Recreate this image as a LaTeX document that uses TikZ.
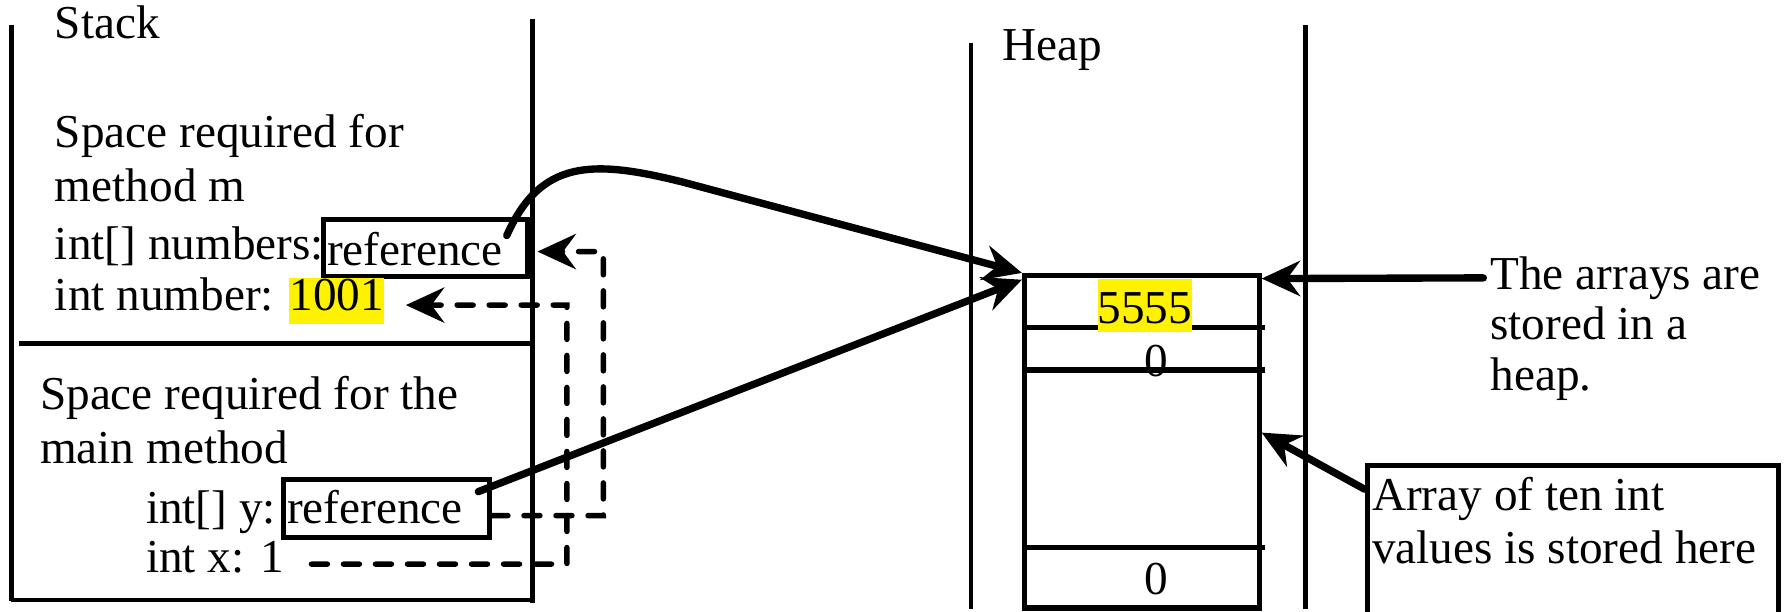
\documentclass[tikz,border=0pt]{standalone}
\usepackage{fontspec}
\setmainfont{Liberation Serif}
\usetikzlibrary{arrows.meta}

\tikzset{
  txt/.style={anchor=base west, inner sep=0pt, font=\fontsize{29.5}{35}\selectfont},
  hilite/.style={txt, fill=yellow},
  wall/.style={line width=3pt},
  refbox/.style={draw, line width=3pt, inner sep=0pt},
  cellbox/.style={draw, line width=3.2pt, inner sep=0pt},
  ptr/.style={line width=4.6pt, line cap=round, -{Stealth[length=24pt,width=22pt,inset=8pt]}},
  link/.style={line width=3.4pt, line cap=round, dash pattern=on 10pt off 10pt,
    -{Stealth[length=24pt,width=22pt,inset=8pt]}}
}

\begin{document}
\begin{tikzpicture}[x=0.025cm, y=-0.025cm]
  \useasboundingbox (0,0) rectangle (1568,537.6);

  % stack frame
  \draw[wall] (10,22) -- (10,528);
  \draw[wall] (468,17) -- (468,530);
  \draw[wall] (10,527) -- (468,527);
  \draw[wall] (17,302) -- (468,302);
  \node[txt] (stack) at (48,34) {Stack};

  % frame of method m
  \node[txt] at (48,130) {Space required for};
  \node[txt] at (48,177) {method m};
  \node[txt] at (48,228) {int[] numbers:};
  \node[refbox, minimum width=4.475cm, minimum height=1.25cm] (nref) at (373.5,218) {};
  \node[txt] at (287,233) {reference};
  \node[txt] at (48,273) {int number:};
  \node[hilite, text height=0.725cm, text depth=0.3cm] (n1001) at (254,273) {1001};

  % frame of main
  \node[txt] at (35,360) {Space required for the};
  \node[txt] at (35,407) {main method};
  \node[txt] at (128,460) {int[] y:};
  \node[refbox, minimum width=4.525cm, minimum height=1.275cm] (yref) at (339.5,446.5) {};
  \node[txt] at (252,460) {reference};
  \node[txt] (intx) at (128,503) {int x: 1};

  % heap
  \draw[wall] (853,38) -- (853,535);
  \draw[wall] (1147,22) -- (1147,535);
  \node[txt] (heap) at (880,53) {Heap};

  \node[cellbox, minimum width=5.15cm, minimum height=7.3cm] (arr) at (1003,388) {};
  \foreach \y in {288,325,481}
    \draw[line width=3.2pt] (900,\y) -- (1111,\y);
  \node[hilite, text height=0.975cm, text depth=0.2cm] (n5555) at (964,284) {5555};
  \node[txt, anchor=base] (first) at (1016,331) {0};
  \node[txt, anchor=base] (last) at (1016,522) {0};

  % notes
  \node[txt] (note) at (1309,254) {The arrays are};
  \node[txt] at (1309,298) {stored in a};
  \node[txt] at (1309,343) {heap.};
  \node[draw, line width=3.2pt, minimum width=9.025cm, minimum height=3.775cm] (tenbox) at (1381.5,484.5) {};
  \node[txt] at (1205,448) {Array of ten int};
  \node[txt] at (1205,495) {values is stored here};

  % references
  \draw[ptr] ([xshift=-0.5cm,yshift=-0.4cm]nref.north east)
    .. controls (475,140) and (520,140) .. (600,160) -- (arr.north west);
  \draw[ptr] ([xshift=-0.3cm,yshift=-0.325cm]yref.north east) -- ([yshift=-0.15cm]arr.north west);
  \draw[ptr] ([xshift=-0.15cm]note.west) -- ([yshift=-0.125cm]arr.north east);
  \draw[ptr] ([yshift=-0.575cm]tenbox.north west) -- ([yshift=0.2cm]arr.east);

  % passing values
  \coordinate (c1) at (530,221);
  \coordinate (c2) at (498,268);
  \draw[link] ([yshift=-0.16cm]yref.east) -| (c1) -- ([xshift=0.175cm,yshift=-0.075cm]nref.east);
  \draw[link] ([xshift=0.6cm,yshift=-0.15cm]intx.east) -| (c2) -- ([xshift=0.475cm,yshift=-0.0875cm]n1001.east);

\end{tikzpicture}
\end{document}
